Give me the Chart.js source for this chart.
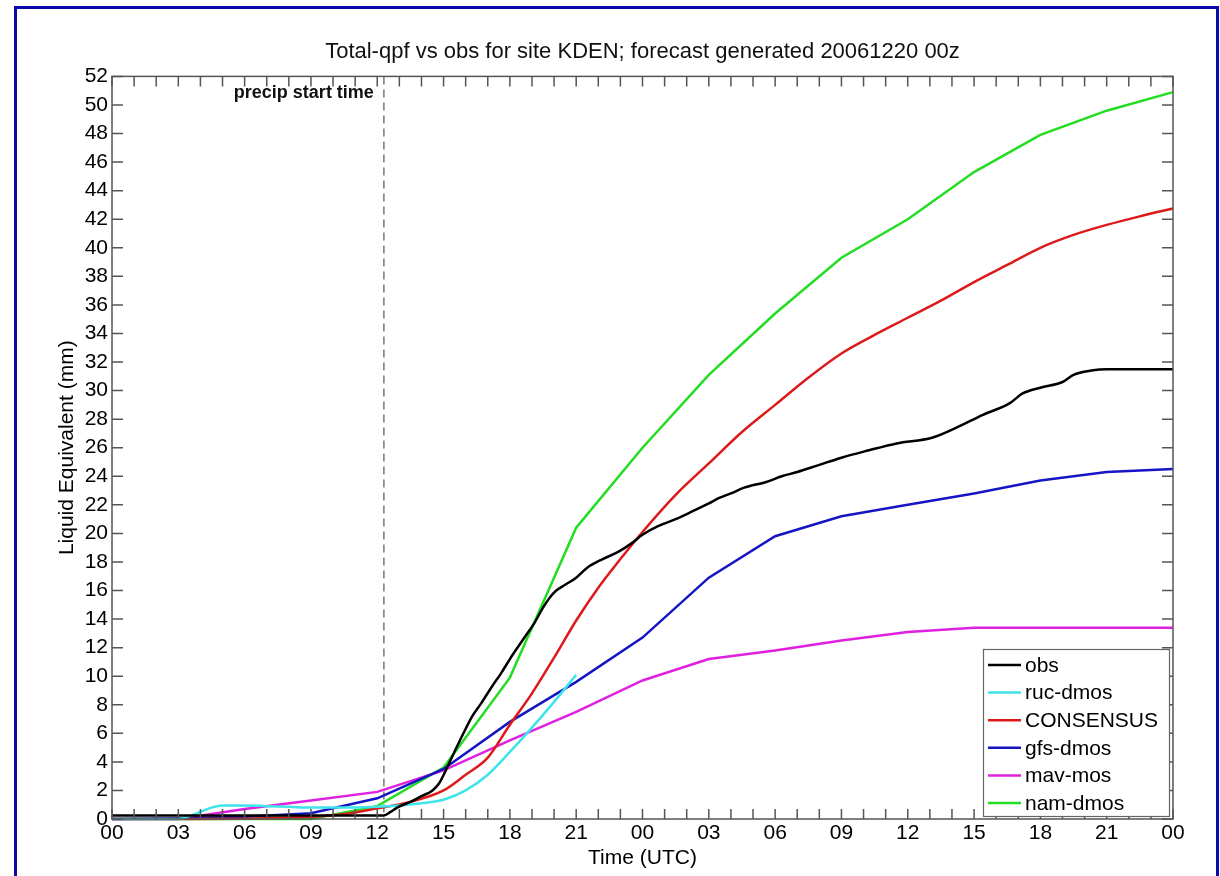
<!DOCTYPE html>
<html>
<head>
<meta charset="utf-8">
<script src="https://cdn.jsdelivr.net/npm/chart.js@4.4.0/dist/chart.umd.min.js"></script>
<style>
  html, body { margin: 0; padding: 0; background: #fff; }
  #wrap { width: 1220px; height: 876px; }
</style>
</head>
<body>
<div id="wrap"><canvas id="qpfChart" width="1220" height="876"></canvas></div>
<script>
// forecast hours since 20061220 00z
const modelHours = [0, 3, 6, 9, 12, 15, 18, 21, 24, 27, 30, 33, 36, 39, 42, 45, 48];
const namMm = [0, 0, 0, 0, 0.9, 3.6, 9.9, 20.4, 26.0, 31.1, 35.4, 39.3, 42.0, 45.3, 47.9, 49.6, 50.9];
const gfsMm = [0, 0.05, 0.15, 0.4, 1.45, 3.5, 6.8, 9.6, 12.7, 16.9, 19.8, 21.2, 22.0, 22.8, 23.7, 24.3, 24.5];
const mavMm = [0, 0, 0.7, 1.3, 1.9, 3.4, 5.5, 7.5, 9.7, 11.2, 11.8, 12.5, 13.1, 13.4, 13.4, 13.4, 13.4];

const consHours = [0, 3, 6, 9, 10.5, 12, 13.5, 15, 16, 17, 18, 19, 20, 21, 22, 23, 24, 25.5, 27, 28.5, 30, 31.5, 33, 34.5, 36, 37.5, 39, 40.5, 42, 43.5, 45, 46.5, 48];
const consMm = [0, 0, 0.02, 0.15, 0.35, 0.75, 1.2, 2.0, 3.1, 4.3, 6.6, 8.8, 11.3, 13.9, 16.2, 18.2, 20.1, 22.7, 24.9, 27.1, 29.0, 30.9, 32.6, 33.9, 35.1, 36.3, 37.6, 38.8, 40.0, 40.9, 41.6, 42.2, 42.75];

const rucHours = [0, 3, 3.5, 4, 4.5, 5, 6, 7, 8, 9, 10, 11, 12, 13, 14, 15, 16, 17, 18, 19, 20, 21];
const rucMm = [0, 0, 0.2, 0.5, 0.8, 0.95, 0.95, 0.9, 0.85, 0.8, 0.8, 0.8, 0.85, 0.95, 1.1, 1.35, 2.0, 3.1, 4.7, 6.4, 8.2, 10.1];

const obsHours = [0, 12.3, 12.6, 12.9, 13.5, 14, 14.5, 14.8, 15.1, 15.4, 15.9, 16.3, 16.7, 17.2, 17.6, 18.0, 18.3, 18.7, 19.1, 19.5, 19.8, 20.1, 20.5, 21.0, 21.5, 22.2, 22.9, 23.5, 24.0, 24.7, 25.5, 26.2, 27.0, 27.5, 28.0, 28.6, 29.6, 30.3, 31.0, 32, 33, 34.2, 35.5, 37.1, 38.2, 39.4, 40.6, 41.2, 42.0, 43.0, 43.5, 44.3, 45.0, 48];
const obsMm = [0.25, 0.25, 0.5, 0.8, 1.2, 1.6, 2.0, 2.5, 3.4, 4.4, 6.0, 7.2, 8.1, 9.3, 10.2, 11.2, 11.9, 12.8, 13.7, 14.8, 15.5, 16.0, 16.4, 16.9, 17.6, 18.2, 18.7, 19.3, 19.9, 20.5, 21.0, 21.5, 22.1, 22.5, 22.8, 23.2, 23.6, 24.0, 24.3, 24.8, 25.3, 25.8, 26.3, 26.7, 27.4, 28.3, 29.1, 29.8, 30.2, 30.6, 31.1, 31.4, 31.5, 31.5];

const precipStart = 12.3;
const xTickLabels = ["00", "03", "06", "09", "12", "15", "18", "21", "00", "03", "06", "09", "12", "15", "18", "21", "00"];

const FONT = "'Liberation Sans', Arial, Helvetica, sans-serif";

function pts(hours, vals) {
  return hours.map((h, i) => ({ x: h, y: vals[i] }));
}

function series(label, color, hours, vals, smooth) {
  return {
    label: label,
    data: pts(hours, vals),
    borderColor: color,
    backgroundColor: color,
    borderWidth: 2.5,
    pointRadius: 0,
    tension: 0,
    cubicInterpolationMode: smooth ? "monotone" : "default",
    clip: 6,
  };
}

// inward ticks, box, dashed start line, legend
const framePlugin = {
  id: "frame",
  beforeDatasetsDraw(chart) {
    const { ctx, chartArea: a, scales } = chart;
    const x = scales.x.getPixelForValue(precipStart);
    ctx.save();
    ctx.strokeStyle = "#777";
    ctx.lineWidth = 1.5;
    ctx.setLineDash([8, 5]);
    ctx.beginPath();
    ctx.moveTo(x, a.top);
    ctx.lineTo(x, a.bottom);
    ctx.stroke();
    ctx.setLineDash([]);
    ctx.fillStyle = "#111";
    ctx.font = "bold 18px " + FONT;
    ctx.textAlign = "right";
    ctx.textBaseline = "middle";
    ctx.fillText("precip start time", x - 10, a.top + 17);
    ctx.restore();
  },
  afterDraw(chart) {
    const { ctx, chartArea: a, scales } = chart;
    ctx.save();
    // page border
    ctx.strokeStyle = "#0a0aa8";
    ctx.lineWidth = 3;
    ctx.strokeRect(15.5, 7.5, 1202, 900);

    ctx.strokeStyle = "#555";
    ctx.lineWidth = 1.5;
    ctx.strokeRect(a.left, a.top, a.right - a.left, a.bottom - a.top);
    ctx.beginPath();
    for (let h = 0; h <= 48; h++) {
      const px = scales.x.getPixelForValue(h);
      ctx.moveTo(px, a.bottom);
      ctx.lineTo(px, a.bottom - 10);
      ctx.moveTo(px, a.top);
      ctx.lineTo(px, a.top + 10);
    }
    for (let v = 0; v <= 52; v += 2) {
      const py = scales.y.getPixelForValue(v);
      ctx.moveTo(a.left, py);
      ctx.lineTo(a.left + 11, py);
      ctx.moveTo(a.right, py);
      ctx.lineTo(a.right - 11, py);
    }
    ctx.stroke();

    // legend
    const bw = 186, bh = 167;
    const bx = a.right - 4 - bw, by = a.bottom - 3 - bh;
    ctx.fillStyle = "#fff";
    ctx.fillRect(bx, by, bw, bh);
    ctx.strokeStyle = "#666";
    ctx.lineWidth = 1.2;
    ctx.strokeRect(bx + 0.5, by + 0.5, bw, bh);
    ctx.font = "21px " + FONT;
    ctx.textAlign = "left";
    ctx.textBaseline = "middle";
    chart.data.datasets.forEach((ds, i) => {
      const ry = by + 16 + i * 27.6;
      ctx.strokeStyle = ds.borderColor;
      ctx.lineWidth = 2.5;
      ctx.beginPath();
      ctx.moveTo(bx + 5, ry);
      ctx.lineTo(bx + 38, ry);
      ctx.stroke();
      ctx.fillStyle = "#000";
      ctx.fillText(ds.label, bx + 42, ry + 1);
    });
    ctx.restore();
  },
};

new Chart(document.getElementById("qpfChart").getContext("2d"), {
  type: "line",
  data: {
    datasets: [
      series("obs", "#000000", obsHours, obsMm, true),
      series("ruc-dmos", "#3ee4ea", rucHours, rucMm, true),
      series("CONSENSUS", "#dd1a1a", consHours, consMm, true),
      series("gfs-dmos", "#1515c4", modelHours, gfsMm, false),
      series("mav-mos", "#e020e0", modelHours, mavMm, false),
      series("nam-dmos", "#22dd22", modelHours, namMm, false),
    ],
  },
  options: {
    responsive: false,
    animation: false,
    devicePixelRatio: 1,
    layout: { padding: { left: 40, right: 47, top: 0, bottom: 0 } },
    plugins: {
      legend: { display: false },
      tooltip: { enabled: false },
      title: {
        display: true,
        fullSize: false,
        text: "Total-qpf vs obs for site KDEN; forecast generated 20061220 00z",
        color: "#111",
        font: { family: FONT, size: 22, weight: "normal" },
        padding: { top: 39, bottom: 11 },
      },
    },
    scales: {
      x: {
        type: "linear",
        min: 0,
        max: 48,
        grid: { display: false, drawTicks: false },
        border: { display: false },
        ticks: {
          stepSize: 3,
          autoSkip: false,
          maxRotation: 0,
          padding: 2,
          color: "#000",
          font: { family: FONT, size: 21 },
          callback: (v) => xTickLabels[v / 3],
        },
        title: {
          display: true,
          text: "Time (UTC)",
          color: "#000",
          font: { family: FONT, size: 21 },
          padding: 5,
        },
        afterFit: (s) => { s.height = 57; },
      },
      y: {
        min: 0,
        max: 52,
        grid: { display: false, drawTicks: false },
        border: { display: false },
        ticks: {
          stepSize: 2,
          autoSkip: false,
          padding: 4,
          color: "#000",
          font: { family: FONT, size: 21 },
        },
        title: {
          display: true,
          text: "Liquid Equivalent (mm)",
          color: "#000",
          font: { family: FONT, size: 21 },
          padding: { top: 15, bottom: 0 },
        },
        afterFit: (s) => { s.width = 72; },
      },
    },
  },
  plugins: [framePlugin],
});
</script>
</body>
</html>
